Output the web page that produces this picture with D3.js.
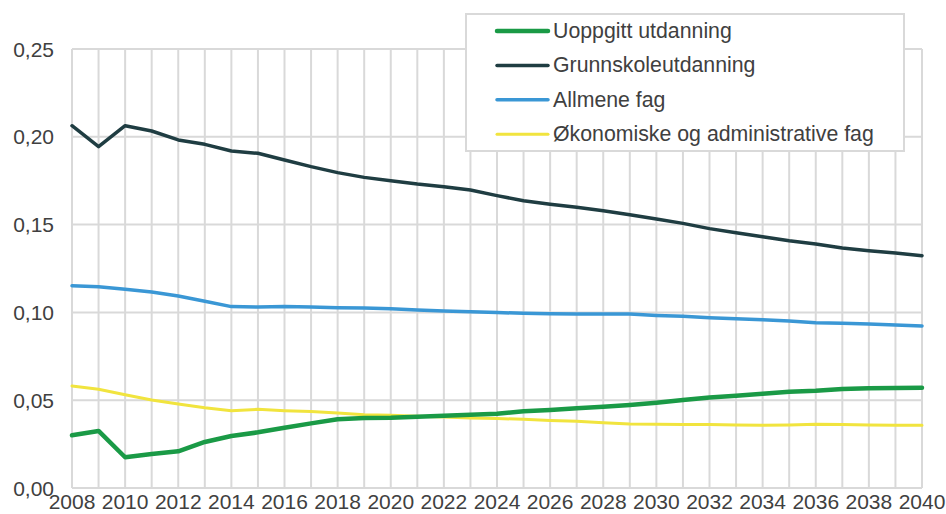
<!DOCTYPE html>
<html><head><meta charset="utf-8">
<script src="https://cdn.jsdelivr.net/npm/d3@7"></script>
<style>body{margin:0;background:#fff}svg{display:block}text{font-family:"Liberation Sans",Arial,sans-serif}</style>
</head><body><svg id="c" width="946" height="514"></svg>
<script>
const years = d3.range(2008, 2041);
const seriesNames = ["Uoppgitt utdanning","Grunnskoleutdanning","Allmene fag","Økonomiske og administrative fag"];
const seriesColors = ["#1a9a46","#1f3d42","#3a97d5","#f1e43e"];
const uoppgitt = [0.0300,0.0325,0.0175,0.0194,0.0209,0.0262,0.0296,0.0317,0.0343,0.0368,0.0391,0.0399,0.0400,0.0406,0.0412,0.0417,0.0423,0.0437,0.0444,0.0454,0.0463,0.0473,0.0486,0.0501,0.0516,0.0526,0.0537,0.0548,0.0554,0.0564,0.0568,0.0569,0.0571];
const grunnskole = [0.2063,0.1944,0.2063,0.2033,0.1982,0.1957,0.1919,0.1906,0.1868,0.1830,0.1796,0.1769,0.1750,0.1731,0.1716,0.1697,0.1665,0.1636,0.1616,0.1599,0.1579,0.1556,0.1532,0.1507,0.1477,0.1454,0.1431,0.1408,0.1390,0.1367,0.1351,0.1338,0.1323];
const allmene = [0.1152,0.1146,0.1132,0.1116,0.1093,0.1063,0.1033,0.1031,0.1033,0.1031,0.1027,0.1025,0.1021,0.1014,0.1008,0.1004,0.0999,0.0995,0.0993,0.0991,0.0991,0.0991,0.0983,0.0978,0.0970,0.0964,0.0958,0.0951,0.0941,0.0938,0.0934,0.0928,0.0923];
const okonomi = [0.0581,0.0562,0.0531,0.0501,0.0478,0.0457,0.0440,0.0448,0.0440,0.0435,0.0427,0.0417,0.0414,0.0408,0.0404,0.0399,0.0396,0.0391,0.0385,0.0380,0.0372,0.0364,0.0363,0.0361,0.0361,0.0359,0.0357,0.0359,0.0363,0.0361,0.0359,0.0357,0.0357];
const yTicks = [0,0.05,0.10,0.15,0.20,0.25];
const xTickYears = d3.range(2008, 2041, 2);
const allSeries = [uoppgitt, grunnskole, allmene, okonomi];
const widths = [4.5,3.5,3.5,3];

const svg = d3.select("#c");
const x = d3.scaleLinear().domain([2008,2040]).range([72,922]);
const y = d3.scaleLinear().domain([0,0.25]).range([488,49]);
const grid = "#d9d9d9";
const fs = 21;

const g = svg.append("g");
g.selectAll("line.v").data(years).join("line")
  .attr("x1",d=>x(d)).attr("x2",d=>x(d)).attr("y1",y(0.25)).attr("y2",y(0))
  .attr("stroke",grid).attr("stroke-width",2);
g.selectAll("line.h").data(yTicks).join("line")
  .attr("x1",x(2008)).attr("x2",x(2040)).attr("y1",d=>y(d)).attr("y2",d=>y(d))
  .attr("stroke",grid).attr("stroke-width",2);

const fmt = d => d3.format(".2f")(d).replace(".", ",");
g.selectAll("text.y").data(yTicks).join("text")
  .attr("x",54).attr("y",d=>y(d)+7.5).attr("text-anchor","end")
  .attr("font-size",fs).attr("fill","#404040").text(fmt);
g.selectAll("text.x").data(xTickYears).join("text")
  .attr("x",d=>x(d)).attr("y",509).attr("text-anchor","middle")
  .attr("font-size",fs).attr("fill","#404040").text(d=>d);

const line = d3.line().x((d,i)=>x(years[i])).y(d=>y(d));
[3,2,1,0].forEach(k=>{
  svg.append("path").datum(allSeries[k]).attr("d",line)
    .attr("fill","none").attr("stroke",seriesColors[k]).attr("stroke-width",widths[k])
    .attr("stroke-linejoin","round").attr("stroke-linecap","round");
});

const lg = svg.append("g");
lg.append("rect").attr("x",466).attr("y",14).attr("width",438).attr("height",137)
  .attr("fill","#fff").attr("stroke",grid).attr("stroke-width",2);
seriesNames.forEach((n,i)=>{
  const yy = 31 + i*34.4;
  lg.append("line").attr("x1",497).attr("x2",548).attr("y1",yy).attr("y2",yy)
    .attr("stroke",seriesColors[i]).attr("stroke-width",widths[i]).attr("stroke-linecap","round");
  lg.append("text").attr("x",553).attr("y",yy+7).attr("font-size",21.3).attr("fill","#404040").text(n);
});
</script></body></html>
